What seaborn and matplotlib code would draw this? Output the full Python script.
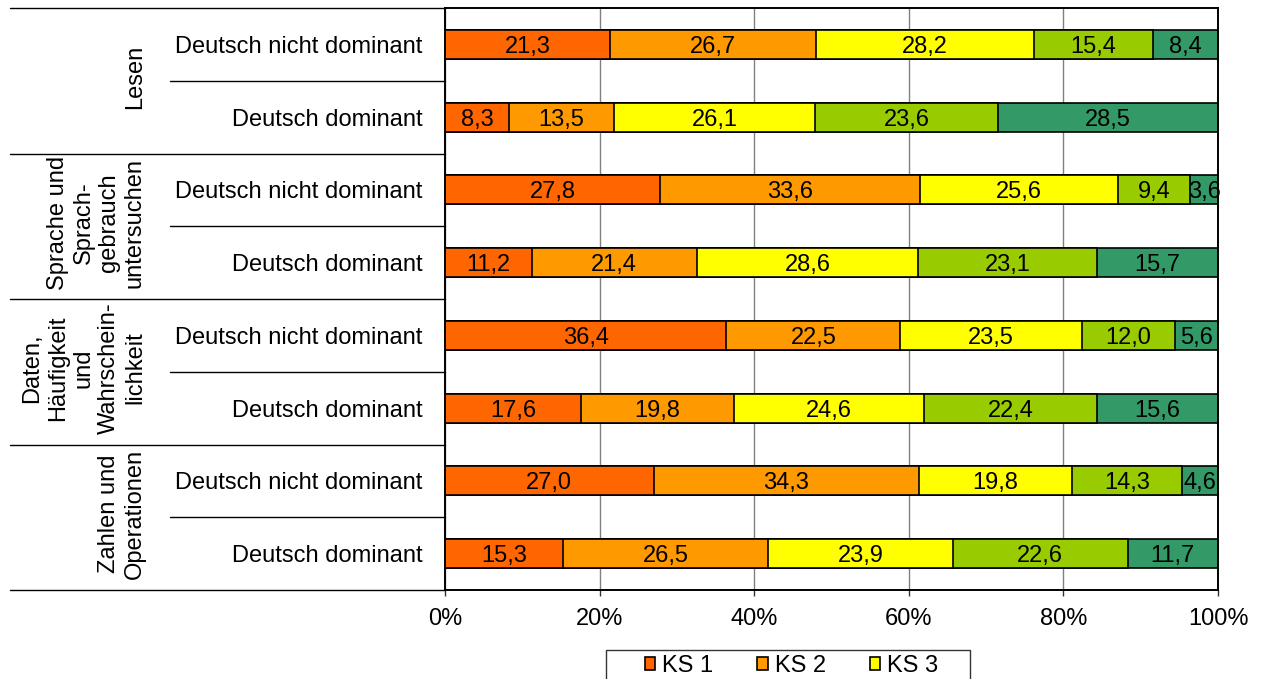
import numpy as np
import pandas as pd
import matplotlib
matplotlib.use("Agg")
import matplotlib.pyplot as plt
from matplotlib.patches import Patch, Rectangle
from matplotlib import font_manager
import seaborn as sns

# ---------------- data ----------------
groups = ["Lesen",
          "Sprache und\nSprach-\ngebrauch\nuntersuchen",
          "Daten,\nHäufigkeit\nund\nWahrschein-\nlichkeit",
          "Zahlen und\nOperationen"]
subgroups = ["Deutsch nicht dominant", "Deutsch dominant"]
levels = ["KS 1", "KS 2", "KS 3", "KS 4", "KS 5"]
ks1 = [21.3, 8.3, 27.8, 11.2, 36.4, 17.6, 27.0, 15.3]
ks2 = [26.7, 13.5, 33.6, 21.4, 22.5, 19.8, 34.3, 26.5]
ks3 = [28.2, 26.1, 25.6, 28.6, 23.5, 24.6, 19.8, 23.9]
ks4 = [15.4, 23.6, 9.4, 23.1, 12.0, 22.4, 14.3, 22.6]
ks5 = [8.4, 28.5, 3.6, 15.7, 5.6, 15.6, 4.6, 11.7]
x_ticks = [0, 20, 40, 60, 80, 100]
x_tick_labels = ["0%", "20%", "40%", "60%", "80%", "100%"]
colors = ["#FF6600", "#FF9900", "#FFFF00", "#99CC00", "#339966"]
legend_visible = ["KS 1", "KS 2", "KS 3"]  # the rest of the legend is cut off in the reference

# ---------------- style ----------------
sns.set_style("white")
plt.rcParams["font.family"] = ["Liberation Sans", "DejaVu Sans"]
plt.rcParams["text.color"] = "black"
plt.rcParams["xtick.color"] = "black"
plt.rcParams["ytick.color"] = "black"
plt.rcParams["axes.labelcolor"] = "black"
names = {f.name for f in font_manager.fontManager.ttflist}
narrow = "Liberation Sans Narrow" if "Liberation Sans Narrow" in names else "Liberation Sans"

FS = 17

row_ids = [f"{gi}-{si}" for gi in range(len(groups)) for si in range(len(subgroups))]
row_labels = [s for _ in groups for s in subgroups]
df = pd.DataFrame({"row": row_ids, "KS 1": ks1, "KS 2": ks2, "KS 3": ks3,
                   "KS 4": ks4, "KS 5": ks5})
cum = df[levels].cumsum(axis=1)
cum["row"] = df["row"]

fig = plt.figure(figsize=(12.61, 6.79), dpi=100)
L, R, T, B = 445, 1218, 8, 590
W, H = 1261, 679
ax = fig.add_axes([L / W, 1 - B / H, (R - L) / W, (B - T) / H])

# stacked bars: overlay cumulative totals from largest to smallest
for k in reversed(range(len(levels))):
    sns.barplot(data=cum, x=levels[k], y="row", order=row_ids, orient="h",
                color=colors[k], saturation=1, width=0.4,
                edgecolor="black", linewidth=1.2, ax=ax, zorder=2)

# value labels
for i in range(len(row_ids)):
    for k, lev in enumerate(levels):
        v = df.loc[i, lev]
        c = cum.loc[i, lev] - v / 2
        ax.text(c, i, f"{v:.1f}".replace(".", ","), ha="center",
                va="center_baseline", fontsize=FS, color="black", zorder=5,
                clip_on=False)

ax.set_xlim(0, 100)
ax.set_ylim(len(row_ids) - 0.5, -0.5)
ax.set_xlabel("")
ax.set_ylabel("")
ax.set_xticks(x_ticks)
ax.set_xticklabels(x_tick_labels, fontsize=FS, family=narrow)
ax.set_yticks(range(len(row_ids)))
ax.set_yticklabels(row_labels, fontsize=FS)
ax.tick_params(axis="y", length=0, pad=16, labelcolor="black")
ax.tick_params(axis="x", bottom=True, length=4, width=1, color="#333333",
               direction="out", pad=9, labelcolor="black")
ax.set_axisbelow(True)
ax.grid(axis="x", color="#808080", linewidth=1)
ax.grid(axis="y", visible=False)
for sp in ax.spines.values():
    sp.set_visible(True)
    sp.set_color("black")
    sp.set_linewidth(1.4)

# hierarchical category axis
trans = ax.get_yaxis_transform()
x_outer = (10 - L) / (R - L)
x_inner = (170 - L) / (R - L)
x_glabel = (146 - L) / (R - L)
for b in np.arange(-0.5, len(row_ids), 2):
    ax.plot([x_outer, 0], [b, b], transform=trans, color="black", lw=1,
            clip_on=False)
for b in np.arange(0.5, len(row_ids), 2):
    ax.plot([x_inner, 0], [b, b], transform=trans, color="black", lw=1,
            clip_on=False)
for gi, g in enumerate(groups):
    ax.text(x_glabel, 2 * gi + 0.45, g, transform=trans, rotation=90,
            ha="right", va="center", multialignment="center",
            fontsize=FS, linespacing=1.22, color="black")

# legend at the bottom (cut off by the figure edge as in the reference)
handles = [Patch(facecolor=colors[levels.index(n)], edgecolor="black", linewidth=1.2)
           for n in legend_visible]
fig.legend(handles, legend_visible, loc="upper center", bbox_to_anchor=(0.6277, 0.063),
           ncol=3, frameon=False, fontsize=FS, handlelength=0.45,
           handleheight=0.45, handletextpad=0.3, columnspacing=1.85,
           borderpad=0.3, labelcolor="black")
fig.add_artist(Rectangle((606 / W, 1 - 650 / H - 0.2), 364 / W, 0.2,
                         transform=fig.transFigure, fill=False,
                         edgecolor="#333333", linewidth=1))

fig.savefig("out.png", dpi=100)
